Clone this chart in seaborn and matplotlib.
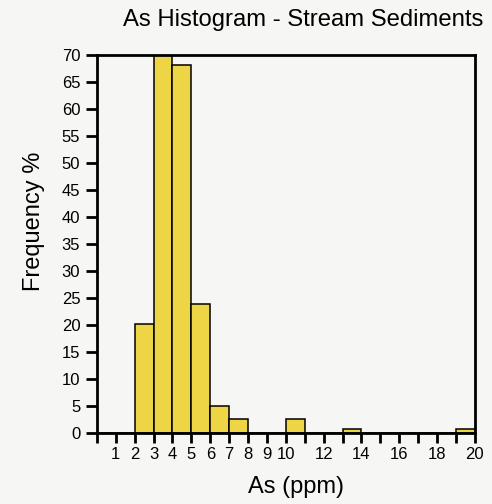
import pandas as pd
import matplotlib
matplotlib.use("Agg")
import matplotlib.pyplot as plt
import seaborn as sns

# --- data (bins are 1 ppm wide) ---
bin_start = [2, 3, 4, 5, 6, 7, 10, 13, 19]
freq_pct = [20.1, 70.0, 68.1, 23.8, 5.0, 2.5, 2.5, 0.7, 0.7]
x_ticks = list(range(0, 21))
x_labels = ["", "1", "2", "3", "4", "5", "6", "7", "8", "9", "10",
            "", "12", "", "14", "", "16", "", "18", "", "20"]
y_ticks = list(range(0, 75, 5))

df = pd.DataFrame({"As": [b + 0.5 for b in bin_start], "pct": freq_pct})

sns.set_theme(style="white")
plt.rcParams['font.family'] = ['Liberation Sans', 'DejaVu Sans']
plt.rcParams['text.color'] = 'black'
plt.rcParams['axes.labelcolor'] = 'black'
plt.rcParams['xtick.color'] = 'black'
plt.rcParams['ytick.color'] = 'black'

fig = plt.figure(figsize=(4.92, 5.04), dpi=100, facecolor="#f6f6f4")
ax = fig.add_axes([0.197, 0.141, 0.768, 0.750])
ax.set_facecolor("#f6f6f4")

sns.histplot(data=df, x="As", weights="pct", binwidth=1, binrange=(0, 20), ax=ax,
             color="#edd546", edgecolor="black", linewidth=1.1, alpha=1.0)

ax.set_xlim(0, 20)
ax.set_ylim(0, 70)
ax.set_xticks(x_ticks)
ax.set_xticklabels(x_labels)
ax.set_yticks(y_ticks)

for side in ["left", "right", "top", "bottom"]:
    ax.spines[side].set_visible(True)
    ax.spines[side].set_color("black")
    ax.spines[side].set_linewidth(2.0)

ax.tick_params(axis="y", direction="out", length=8, width=2,
               labelsize=12, pad=4, left=True)
ax.tick_params(axis="x", direction="out", length=7, width=2,
               labelsize=12, pad=3, bottom=True)

ax.set_xlabel("")
ax.set_ylabel("")
fig.text(296 / 492, 1 - 487 / 504, "As (ppm)", fontsize=17, ha="center", va="center")
fig.text(34 / 492, 1 - 221 / 504, "Frequency %", fontsize=17, rotation=90,
         ha="center", va="center")
fig.text(303 / 492, 1 - 20 / 504, "As Histogram - Stream Sediments", fontsize=17.2,
         ha="center", va="center")

plt.savefig("out.png", dpi=100, facecolor=fig.get_facecolor())
